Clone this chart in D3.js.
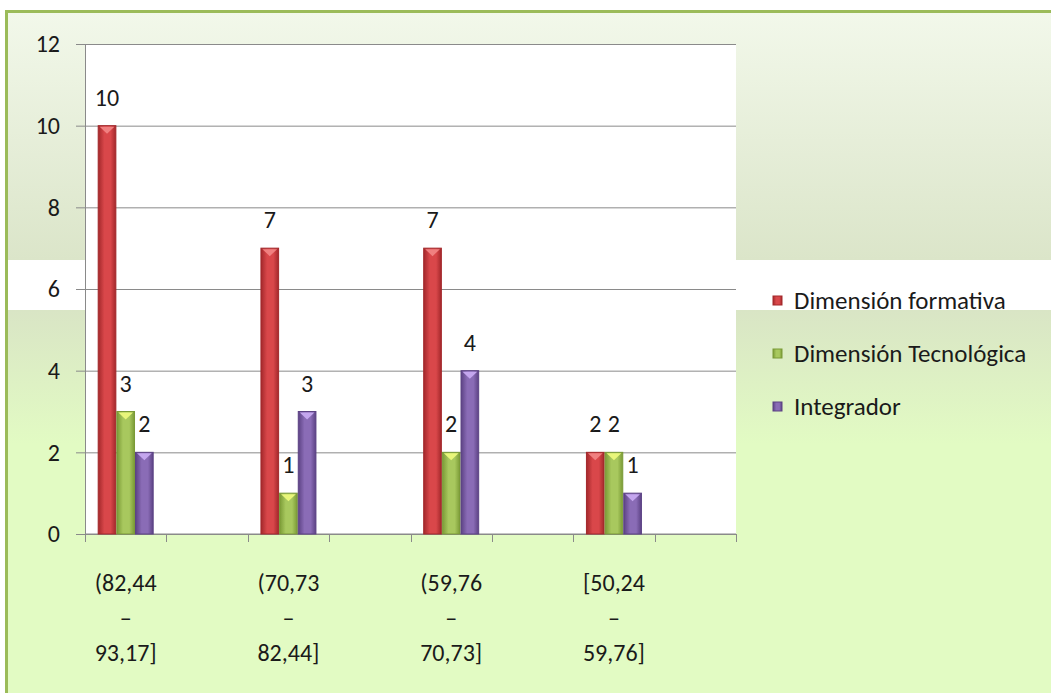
<!DOCTYPE html>
<html>
<head>
<meta charset="utf-8">
<script src="https://cdn.jsdelivr.net/npm/d3@7"></script>
<style>
  body { margin: 0; background: #fff; }
  text { font-family: Carlito, Lato, "Open Sans", sans-serif; fill: #1a1a1a; }
</style>
</head>
<body>
<svg width="1051" height="693"></svg>
<script>
// categories (blank slots sit between the intervals, as in the original sheet)
var categories = ["(82,44 – 93,17]", "", "(70,73 – 82,44]", "", "(59,76 – 70,73]", "", "[50,24 – 59,76]", ""];
var seriesNames = ["Dimensión formativa", "Dimensión Tecnológica", "Integrador"];
var formativa   = [10, null, 7, null, 7, null, 2, null];
var tecnologica = [3, null, 1, null, 2, null, 2, null];
var integrador  = [2, null, 3, null, 4, null, 1, null];
var yTicks = [0, 2, 4, 6, 8, 10, 12];

var seriesValues = [formativa, tecnologica, integrador];
var colors = [
  {edge: "#a3282b", mid: "#d9474a", top: "#f08080"},
  {edge: "#7a9a36", mid: "#a8c85e", top: "#e8f67a"},
  {edge: "#5c4284", mid: "#8a6cb6", top: "#c4a6ee"}
];

var svg = d3.select("svg"),
  width = +svg.attr("width"),
  height = +svg.attr("height");

var margin = {left: 85, top: 44, right: 1051 - 736, bottom: 693 - 534};
var plotW = width - margin.left - margin.right,
  plotH = height - margin.top - margin.bottom;

var defs = svg.append("defs");

// background bands
var gTop = defs.append("linearGradient").attr("id", "bgTop").attr("x1", 0).attr("y1", 0).attr("x2", 0).attr("y2", 1);
gTop.append("stop").attr("offset", "0%").attr("stop-color", "#f2f8ea");
gTop.append("stop").attr("offset", "100%").attr("stop-color", "#dbe5c9");
var gBot = defs.append("linearGradient").attr("id", "bgBot").attr("x1", 0).attr("y1", 0).attr("x2", 0).attr("y2", 1);
gBot.append("stop").attr("offset", "0%").attr("stop-color", "#d9e5c5");
gBot.append("stop").attr("offset", "35%").attr("stop-color", "#e2fbc3");
gBot.append("stop").attr("offset", "100%").attr("stop-color", "#e2fbc3");

svg.append("rect").attr("x", 8).attr("y", 13).attr("width", width - 8).attr("height", 247)
  .attr("fill", "url(#bgTop)");
svg.append("rect").attr("x", 8).attr("y", 310).attr("width", width - 8).attr("height", height - 310)
  .attr("fill", "url(#bgBot)");

// green frame
svg.append("line").attr("x1", 6).attr("x2", width).attr("y1", 11.5).attr("y2", 11.5)
  .attr("stroke", "#9bbb59").attr("stroke-width", 3);
svg.append("line").attr("x1", 6.5).attr("x2", 6.5).attr("y1", 10).attr("y2", height)
  .attr("stroke", "#9bbb59").attr("stroke-width", 3);

// bar gradients
colors.forEach(function(c, i) {
  var g = defs.append("linearGradient").attr("id", "bar" + i)
    .attr("x1", 0).attr("y1", 0).attr("x2", 1).attr("y2", 0);
  g.append("stop").attr("offset", "0%").attr("stop-color", c.edge);
  g.append("stop").attr("offset", "35%").attr("stop-color", c.mid);
  g.append("stop").attr("offset", "70%").attr("stop-color", c.mid);
  g.append("stop").attr("offset", "100%").attr("stop-color", c.edge);
});

var chart = svg.append("g").attr("transform", "translate(" + margin.left + "," + margin.top + ")");

chart.append("rect").attr("width", plotW).attr("height", plotH).attr("fill", "#fff");

var x0 = d3.scaleBand().domain(d3.range(categories.length)).range([0, plotW]);
var x1 = d3.scaleBand().domain(d3.range(seriesNames.length)).range([0, x0.bandwidth()])
  .paddingInner(0).paddingOuter(0.68);
var y = d3.scaleLinear().domain([0, 12]).range([plotH, 0]);

// gridlines + y axis
var yAxis = chart.append("g")
  .call(d3.axisLeft(y).tickValues(yTicks).tickSize(-plotW).tickSizeOuter(0).tickPadding(25));
yAxis.select(".domain").remove();
yAxis.selectAll(".tick line").attr("stroke", "#8a8a8a").attr("x1", -9);
yAxis.selectAll(".tick text").attr("font-size", 24).attr("fill", "#1a1a1a")
  .style("font-family", "Carlito, Lato, sans-serif");
chart.append("line").attr("x1", 0.5).attr("x2", 0.5).attr("y1", 0).attr("y2", plotH)
  .attr("stroke", "#8a8a8a");

// x axis: ticks between slots
var xAxis = chart.append("g").attr("transform", "translate(0," + plotH + ")");
xAxis.append("line").attr("x1", 0).attr("x2", plotW).attr("stroke", "#8a8a8a");
xAxis.selectAll("line.tk")
  .data(d3.range(categories.length + 1))
  .enter().append("line")
    .attr("class", "tk")
    .attr("x1", function(d) { return Math.round(d * x0.step()) + 0.5; })
    .attr("x2", function(d) { return Math.round(d * x0.step()) + 0.5; })
    .attr("y1", 0).attr("y2", 8)
    .attr("stroke", "#8a8a8a");

var catLabel = xAxis.selectAll("text.cat")
  .data(categories)
  .enter().append("text")
    .attr("class", "cat")
    .attr("text-anchor", "middle")
    .attr("font-size", 24)
    .attr("transform", function(d, i) { return "translate(" + (x0(i) + x0.bandwidth() / 2) + ",0)"; });
catLabel.selectAll("tspan")
  .data(function(d) { return d ? d.split(" ") : []; })
  .enter().append("tspan")
    .attr("x", 0)
    .attr("y", function(d, i) { return 57 + i * 35; })
    .text(function(d) { return d; });

// bars
var flat = [];
seriesValues.forEach(function(vals, s) {
  vals.forEach(function(v, c) {
    if (v != null) flat.push({s: s, c: c, v: v});
  });
});

var bar = chart.append("g").selectAll("g")
  .data(flat)
  .enter().append("g")
    .attr("transform", function(d) { return "translate(" + (x0(d.c) + x1(d.s)) + ",0)"; });

var bw = x1.bandwidth();
bar.append("rect")
  .attr("x", 0.5)
  .attr("y", function(d) { return y(d.v); })
  .attr("width", bw - 1)
  .attr("height", function(d) { return y(0) - y(d.v); })
  .attr("fill", function(d) { return "url(#bar" + d.s + ")"; })
  .attr("stroke", function(d) { return colors[d.s].edge; })
  .attr("stroke-width", 1);

// little bevel at the top of each bar
bar.append("path")
  .attr("d", function(d) {
    var t = y(d.v) + 1;
    return "M2," + t + "L" + (bw - 2) + "," + t + "L" + (bw / 2) + "," + (t + 7) + "Z";
  })
  .attr("fill", function(d) { return colors[d.s].top; });

bar.append("text")
  .attr("x", bw / 2)
  .attr("y", function(d) { return y(d.v) - 20; })
  .attr("text-anchor", "middle")
  .attr("font-size", 24)
  .text(function(d) { return d.v; });

// legend
var legend = svg.append("g").attr("transform", "translate(773,300)")
  .selectAll("g")
  .data(seriesNames)
  .enter().append("g")
    .attr("transform", function(d, i) { return "translate(0," + (i * 53) + ")"; });

legend.append("rect")
  .attr("width", 9).attr("height", 9)
  .attr("y", -4)
  .attr("fill", function(d, i) { return "url(#bar" + i + ")"; })
  .attr("stroke", function(d, i) { return colors[i].edge; });

legend.append("text")
  .attr("x", 21)
  .attr("y", 9)
  .attr("font-size", 25)
  .text(function(d) { return d; });
</script>
</body>
</html>
